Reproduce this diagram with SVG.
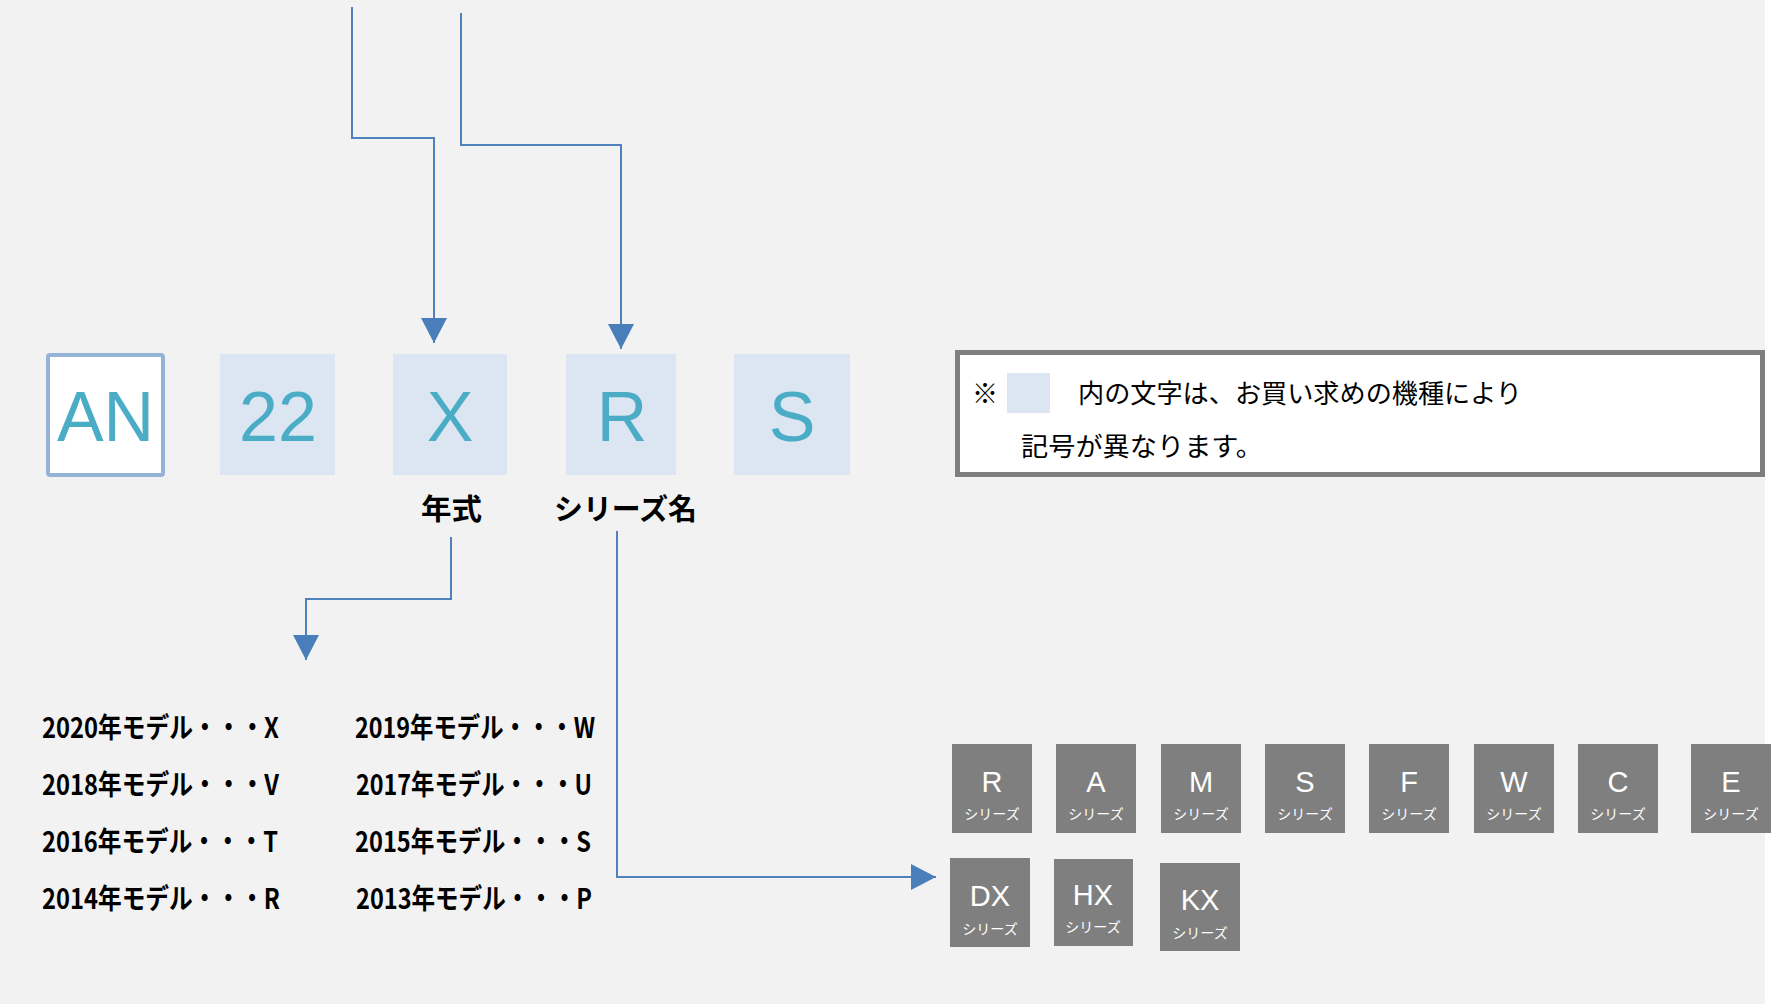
<svg xmlns="http://www.w3.org/2000/svg" width="1788" height="1004" viewBox="0 0 1788 1004">
<style>
.code{font-family:"Liberation Sans","Noto Sans",sans-serif;font-size:70px;fill:#4BACC6;text-anchor:middle}
.codebox{fill:#DCE6F2}
.lbl{font-family:"Noto Sans CJK JP","Noto Sans",sans-serif;font-weight:bold;font-size:29px;fill:#000}
.yr{font-family:"Noto Sans CJK JP","Noto Sans",sans-serif;font-weight:bold;font-size:28px;fill:#000}
.note{font-family:"Noto Sans CJK JP","Noto Sans",sans-serif;font-size:26px;fill:#000}
.ser rect{fill:#7F7F7F}
.sl{font-family:"Liberation Sans","Noto Sans",sans-serif;font-size:29px;fill:#fff;text-anchor:middle}
.ss{font-family:"Noto Sans CJK JP","Noto Sans",sans-serif;font-size:14px;fill:#fff;text-anchor:middle}
.conn{fill:none;stroke:#4F81BD;stroke-width:2}
</style>
<defs>
<marker id="ah" viewBox="0 0 25 26" refX="25" refY="13" markerWidth="25" markerHeight="26" markerUnits="userSpaceOnUse" orient="auto">
<path d="M0,0 L25,13 L0,26 Z" fill="#4A7EBB"/>
</marker>
</defs>
<rect x="0" y="0" width="1788" height="1004" fill="#FFFFFF"/>
<rect x="0" y="0" width="1765" height="1004" fill="#F2F2F2"/>

<g id="connectors">
<path class="conn" d="M352,7 V138 H434 V343" marker-end="url(#ah)"/>
<path class="conn" d="M461,13 V145 H621 V349" marker-end="url(#ah)"/>
<path class="conn" d="M451,537 V599 H306 V660" marker-end="url(#ah)"/>
<path class="conn" d="M617,531 V877 H936" marker-end="url(#ah)"/>
</g>

<g id="node-AN">
<rect x="48" y="355" width="115" height="120" rx="2" fill="#FFFFFF" stroke="#95B3D7" stroke-width="4"/>
<text class="code" x="105.5" y="441">AN</text>
</g>
<g id="node-22">
<rect class="codebox" x="220" y="354" width="115" height="121"/>
<text class="code" x="278" y="441">22</text>
</g>
<g id="node-X">
<rect class="codebox" x="393" y="354" width="114" height="121"/>
<text class="code" x="450" y="441">X</text>
</g>
<g id="node-R">
<rect class="codebox" x="566" y="354" width="110" height="121"/>
<text class="code" x="622" y="441">R</text>
</g>
<g id="node-S">
<rect class="codebox" x="734" y="354" width="116" height="121"/>
<text class="code" x="792" y="441">S</text>
</g>

<g id="label-nenshiki">
<text class="lbl" x="421" y="520" textLength="61" lengthAdjust="spacingAndGlyphs">年式</text>
</g>
<g id="label-series">
<text class="lbl" x="554" y="520" textLength="143" lengthAdjust="spacingAndGlyphs">シリーズ名</text>
</g>

<g id="note">
<rect x="957.5" y="352.5" width="805" height="122" fill="#FFFFFF" stroke="#7F7F7F" stroke-width="5"/>
<text class="note" x="972" y="403">※</text>
<rect class="codebox" x="1007" y="373" width="43" height="40"/>
<text class="note" x="1078" y="403" textLength="444" lengthAdjust="spacingAndGlyphs">内の文字は、お買い求めの機種により</text>
<text class="note" x="1021" y="456" textLength="242" lengthAdjust="spacingAndGlyphs">記号が異なります。</text>
</g>

<g id="year-list">
<text class="yr" x="42" y="738" textLength="237" lengthAdjust="spacingAndGlyphs">2020年モデル・・・X</text>
<text class="yr" x="355" y="738" textLength="240" lengthAdjust="spacingAndGlyphs">2019年モデル・・・W</text>
<text class="yr" x="42" y="795" textLength="237" lengthAdjust="spacingAndGlyphs">2018年モデル・・・V</text>
<text class="yr" x="356" y="795" textLength="236" lengthAdjust="spacingAndGlyphs">2017年モデル・・・U</text>
<text class="yr" x="42" y="852" textLength="236" lengthAdjust="spacingAndGlyphs">2016年モデル・・・T</text>
<text class="yr" x="355" y="852" textLength="236" lengthAdjust="spacingAndGlyphs">2015年モデル・・・S</text>
<text class="yr" x="42" y="909" textLength="238" lengthAdjust="spacingAndGlyphs">2014年モデル・・・R</text>
<text class="yr" x="356" y="909" textLength="236" lengthAdjust="spacingAndGlyphs">2013年モデル・・・P</text>
</g>

<g id="series-R" class="ser"><rect x="952" y="744" width="80" height="89"/><text class="sl" x="992" y="792">R</text><text class="ss" x="992" y="819">シリーズ</text></g>
<g id="series-A" class="ser"><rect x="1056" y="744" width="80" height="89"/><text class="sl" x="1096" y="792">A</text><text class="ss" x="1096" y="819">シリーズ</text></g>
<g id="series-M" class="ser"><rect x="1161" y="744" width="80" height="89"/><text class="sl" x="1201" y="792">M</text><text class="ss" x="1201" y="819">シリーズ</text></g>
<g id="series-S" class="ser"><rect x="1265" y="744" width="80" height="89"/><text class="sl" x="1305" y="792">S</text><text class="ss" x="1305" y="819">シリーズ</text></g>
<g id="series-F" class="ser"><rect x="1369" y="744" width="80" height="89"/><text class="sl" x="1409" y="792">F</text><text class="ss" x="1409" y="819">シリーズ</text></g>
<g id="series-W" class="ser"><rect x="1474" y="744" width="80" height="89"/><text class="sl" x="1514" y="792">W</text><text class="ss" x="1514" y="819">シリーズ</text></g>
<g id="series-C" class="ser"><rect x="1578" y="744" width="80" height="89"/><text class="sl" x="1618" y="792">C</text><text class="ss" x="1618" y="819">シリーズ</text></g>
<g id="series-E" class="ser"><rect x="1691" y="744" width="80" height="89"/><text class="sl" x="1731" y="792">E</text><text class="ss" x="1731" y="819">シリーズ</text></g>
<g id="series-DX" class="ser"><rect x="950" y="858" width="80" height="89"/><text class="sl" x="990" y="906">DX</text><text class="ss" x="990" y="934">シリーズ</text></g>
<g id="series-HX" class="ser"><rect x="1054" y="859" width="79" height="87"/><text class="sl" x="1093" y="905">HX</text><text class="ss" x="1093" y="932">シリーズ</text></g>
<g id="series-KX" class="ser"><rect x="1160" y="863" width="80" height="88"/><text class="sl" x="1200" y="910">KX</text><text class="ss" x="1200" y="938">シリーズ</text></g>
</svg>
